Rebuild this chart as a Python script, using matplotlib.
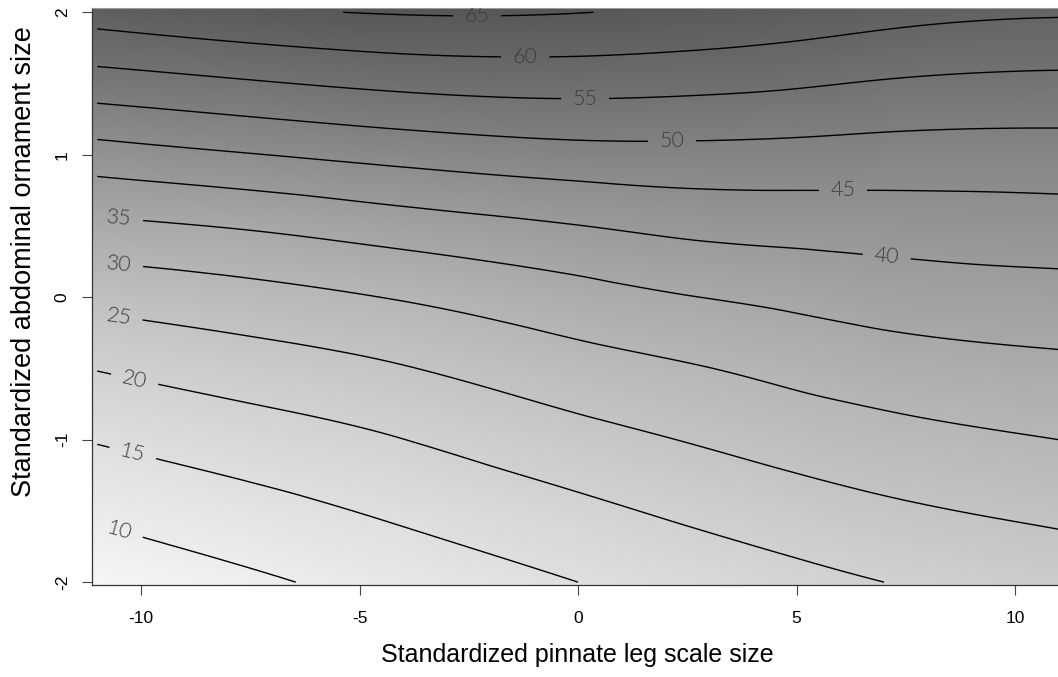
#!/usr/bin/env python3
"""Fitness surface: contours over abdominal ornament x pinnate leg scale size."""

import matplotlib
matplotlib.use("Agg")
import matplotlib.pyplot as plt
import matplotlib.tri as mtri
import numpy as np
from matplotlib.colors import LinearSegmentedColormap, Normalize

plt.rcParams.update({
    "font.family": ["Liberation Sans", "DejaVu Sans"],
    "axes.unicode_minus": False,
})

# ── data ─────────────────────────────────────────────────────────────
# grid columns: standardized pinnate leg scale size
leg_scale = [-11.0, -7.5, -4.07, 0.0, 2.79, 5.08, 7.0, 11.0]
# grid rows: standardized abdominal ornament size
ornament = [-2.0, -1.5, -1.0, -0.5, 0.0, 0.5, 1.0, 1.5, 2.0]

# fitted surface value at each row (bottom to top), one value per column
fit_row_m2 = [6.7, 9.2, 11.9, 15.0, 17.0, 18.7, 20.0, 22.2]
fit_row_m15 = [10.8, 13.3, 15.8, 18.9, 21.1, 22.8, 24.1, 26.0]
fit_row_m1 = [15.3, 17.6, 19.9, 23.3, 25.4, 27.1, 28.3, 30.0]
fit_row_m05 = [20.2, 22.5, 24.7, 28.0, 29.8, 31.4, 32.5, 33.9]
fit_row_0 = [26.5, 28.3, 30.3, 33.2, 35.0, 36.2, 37.2, 38.2]
fit_row_05 = [33.9, 35.5, 37.6, 39.9, 41.4, 41.9, 42.2, 42.8]
fit_row_1 = [42.9, 44.8, 46.6, 48.2, 48.5, 48.3, 48.0, 47.9]
fit_row_15 = [52.7, 54.5, 56.1, 56.8, 56.3, 55.5, 54.6, 53.8]
fit_row_2 = [62.2, 64.2, 65.3, 65.1, 64.1, 63.0, 61.8, 60.5]

contour_levels = [10, 15, 20, 25, 30, 35, 40, 45, 50, 55, 60, 65]

x_ticks = [-10, -5, 0, 5, 10]
y_ticks = [-2, -1, 0, 1, 2]

# where the inline contour labels sit (layout, not data)
LABEL_POS = [
    (-10.5, -1.65), (-10.17, -1.07), (-10.14, -0.57), (-10.5, -0.12),
    (-10.5, 0.23), (-10.5, 0.54), (7.07, 0.31), (6.06, 0.75),
    (2.15, 1.10), (0.16, 1.40), (-1.21, 1.69), (-2.31, 1.99),
]


def pad_edges(vals, lo, hi):
    # image cells reach a little past the outer grid points (like R's image())
    out = list(vals)
    out[0] -= lo
    out[-1] += hi
    return out


def main():
    Z = np.vstack([fit_row_m2, fit_row_m15, fit_row_m1, fit_row_m05, fit_row_0,
                   fit_row_05, fit_row_1, fit_row_15, fit_row_2])

    W, H = 1058, 677
    fig = plt.figure(figsize=(W / 100, H / 100), dpi=100)
    ax = fig.add_axes([92 / W, 1 - 585 / H, 1 - 92 / W, (585 - 8) / H])

    cmap = LinearSegmentedColormap.from_list("fit_gray", ["#f8f8f8", "#545454"])
    Xb, Yb = np.meshgrid(pad_edges(leg_scale, 0.15, 0.0), pad_edges(ornament, 0.03, 0.04))
    ax.pcolormesh(Xb, Yb, Z, shading="gouraud", cmap=cmap, norm=Normalize(6, 66))

    X, Y = np.meshgrid(leg_scale, ornament)
    tri = mtri.Triangulation(X.ravel(), Y.ravel())
    tri_fine, z_fine = mtri.UniformTriRefiner(tri).refine_field(Z.ravel(), subdiv=4)
    cs = ax.tricontour(tri_fine, z_fine, levels=contour_levels, colors="black",
                       linewidths=1.0)
    labels = ax.clabel(cs, inline=True, fontsize=15.5, colors="#3c3c3c", fmt="%d",
                       manual=LABEL_POS, inline_spacing=12)
    for t in labels:
        t.set_family(["Lato", "Liberation Sans"])
        t.set_fontweight(300)

    ax.set_xlim(-11.12, 10.98)
    ax.set_ylim(-2.02, 2.03)
    ax.set_xticks(x_ticks)
    ax.set_yticks(y_ticks)
    ax.tick_params(direction="out", length=7, width=0.8, color="#444444",
                   labelsize=12.5)
    ax.tick_params(axis="x", pad=12)
    ax.tick_params(axis="y", pad=9, labelrotation=90)
    for lab in ax.get_yticklabels():
        lab.set_va("center")

    for side in ("left", "bottom"):
        ax.spines[side].set_color("#333333")
        ax.spines[side].set_linewidth(0.9)
    ax.spines["top"].set_color("#9a9a9a")
    ax.spines["top"].set_linewidth(0.8)
    ax.spines["right"].set_visible(False)

    fig.text(577 / W, 1 - 655 / H, "Standardized pinnate leg scale size",
             ha="center", va="center", fontsize=18)
    fig.text(24 / W, 1 - 262 / H, "Standardized abdominal ornament size",
             ha="center", va="center", rotation=90, fontsize=19.5)

    fig.savefig("out.png", dpi=100)
    plt.close(fig)


if __name__ == "__main__":
    main()
